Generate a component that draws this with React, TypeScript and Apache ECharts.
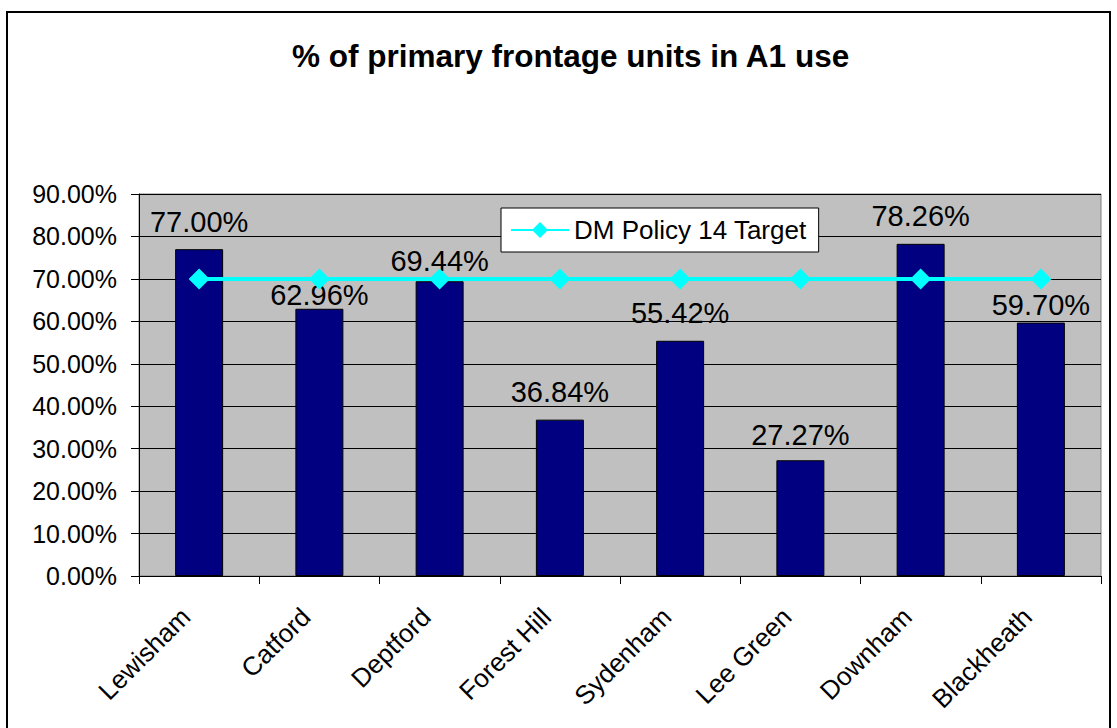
import React, { useEffect, useRef } from "react";
import * as echarts from "echarts";

const categories = ["Lewisham", "Catford", "Deptford", "Forest Hill", "Sydenham", "Lee Green", "Downham", "Blackheath"];
const a1Share = [77.0, 62.96, 69.44, 36.84, 55.42, 27.27, 78.26, 59.7];
const policyTarget = [70, 70, 70, 70, 70, 70, 70, 70];
const labelShift = [0, 14, 7, 0, 0, 2, 0, 10];
const yTicks = { min: 0, max: 90, interval: 10 };

const FONT = "'Liberation Sans', Arial, sans-serif";

export default function App() {
  const ref = useRef<HTMLDivElement>(null);
  useEffect(() => {
    if (!ref.current) return;
    const chart = echarts.init(ref.current, undefined, { renderer: "svg" });
    chart.setOption({
      animation: false,
      backgroundColor: "#ffffff",
      textStyle: { fontFamily: FONT },
      title: {
        text: "% of primary frontage units in A1 use",
        left: 287,
        top: 35,
        textStyle: { fontFamily: FONT, fontSize: 31.5, fontWeight: "bold", color: "#000" },
      },
      graphic: [
        {
          type: "rect",
          shape: { x: 7, y: 12, width: 1103, height: 730 },
          style: { fill: "none", stroke: "#000", lineWidth: 2 },
          silent: true,
        },
      ],
      legend: {
        left: 501,
        top: 208,
        padding: [9, 12, 9, 9],
        backgroundColor: "#ffffff",
        borderColor: "#000",
        borderWidth: 1,
        itemWidth: 58,
        itemHeight: 20,
        textStyle: { fontFamily: FONT, fontSize: 26, color: "#000" },
        data: ["DM Policy 14 Target"],
      },
      grid: {
        left: 139,
        top: 194,
        width: 962,
        height: 382,
        show: true,
        backgroundColor: "#C0C0C0",
        borderColor: "#808080",
        borderWidth: 1,
      },
      xAxis: {
        type: "category",
        data: categories,
        axisLine: { lineStyle: { color: "#000", width: 1 } },
        axisTick: { show: true, length: 8, lineStyle: { color: "#000" } },
        axisLabel: {
          rotate: 45,
          fontSize: 26,
          color: "#000",
          margin: 23,
          padding: [0, 19, 0, 0],
          fontFamily: FONT,
          interval: 0,
        },
      },
      yAxis: {
        type: "value",
        min: yTicks.min,
        max: yTicks.max,
        interval: yTicks.interval,
        axisLine: { show: true, lineStyle: { color: "#000", width: 1 } },
        axisTick: { show: true, length: 8, lineStyle: { color: "#000" } },
        splitLine: { show: true, lineStyle: { color: "#000", width: 1 } },
        axisLabel: {
          fontSize: 25,
          color: "#000",
          margin: 22,
          fontFamily: FONT,
          formatter: (v: number) => v.toFixed(2) + "%",
        },
      },
      series: [
        {
          name: "A1 use",
          type: "bar",
          barWidth: 48,
          itemStyle: { color: "#000080", borderColor: "#000", borderWidth: 1 },
          label: {
            show: true,
            position: "top",
            distance: 13,
            fontSize: 29,
            color: "#000",
            fontFamily: FONT,
            formatter: (p: any) => Number(p.value).toFixed(2) + "%",
          },
          data: a1Share.map((v, i) => ({ value: v, label: { offset: [0, labelShift[i]] } })),
          z: 2,
        },
        {
          name: "DM Policy 14 Target",
          type: "line",
          data: policyTarget,
          symbol: "diamond",
          symbolSize: 21,
          lineStyle: { color: "#00FFFF", width: 4 },
          itemStyle: { color: "#00FFFF" },
          z: 3,
        },
      ],
    });
    return () => chart.dispose();
  }, []);
  return <div ref={ref} style={{ position: "fixed", left: 0, top: 0, width: 1117, height: 728 }} />;
}
